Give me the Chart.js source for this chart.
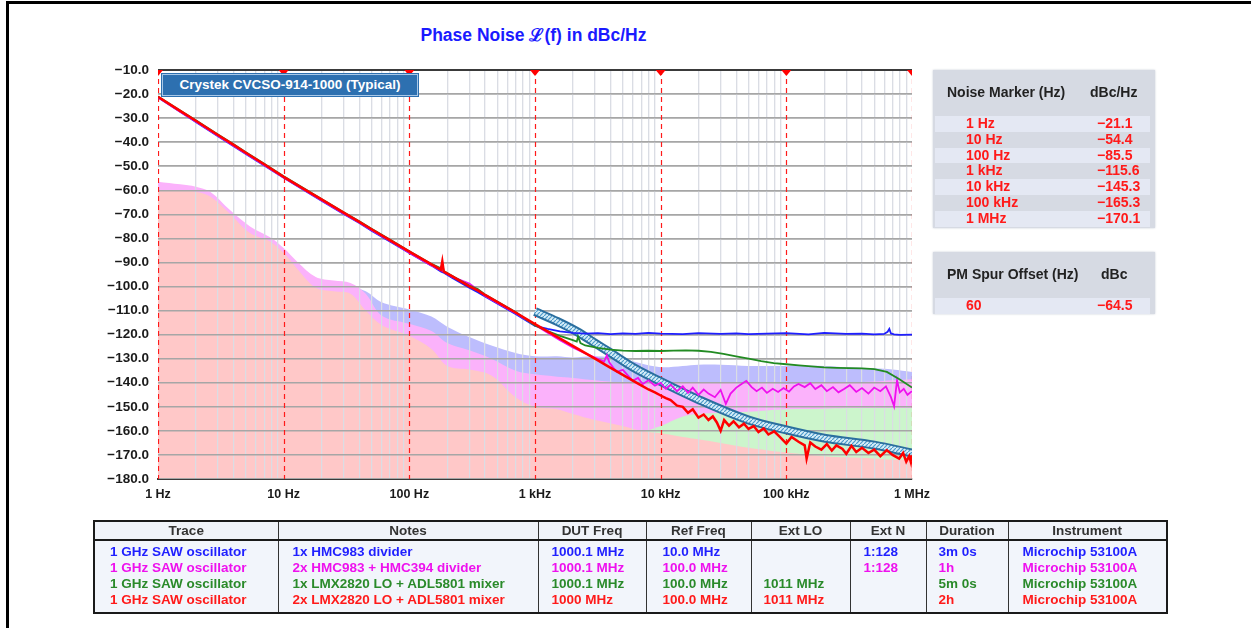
<!DOCTYPE html>
<html>
<head>
<meta charset="utf-8">
<script src="https://cdn.jsdelivr.net/npm/chart.js@4.4.0/dist/chart.umd.min.js"></script>
<style>
  body { margin: 0; background: #fff; font-family: "Liberation Sans", Arial, sans-serif; }
  #wrap { position: relative; width: 1251px; height: 628px; overflow: hidden; background: #fff; }
  #frame { position: absolute; left: 6px; top: 1px; width: 1400px; height: 800px; border-top: 3px solid #000; border-left: 3px solid #000; }
  #chartBox { position: absolute; left: 0; top: 0; }
  #title { position: absolute; left: 0; top: 22px; width: 1067px; text-align: center; font-weight: bold; font-size: 17.5px; color: #1a1aff; }
  #legendBox { position: absolute; left: 162px; top: 74px; width: 254px; height: 20px; background: #2d70b0; border: 1px solid #a8c8e8; outline: 1px solid #2d70b0; color: #fff; font-weight: bold; font-size: 13.5px; line-height: 20px; text-align: center; }
  .panel { position: absolute; left: 933px; width: 222px; background: #d6dae3; box-shadow: 0 0 2px #c8ccd6; font-weight: bold; font-size: 14px; }
  .panel .hd { position: relative; height: 46px; color: #222; }
  .panel .hd span { position: absolute; top: 14px; }
  .panel .row { position: relative; height: 15.8px; color: #ff1a1a; font-size: 14px; }
  .panel .row.lt { background: #e4e8f3; margin: 0 5px 0 2px; }
  .panel .row span { position: absolute; top: 0; line-height: 15.8px; }
  #bottomTable { position: absolute; left: 93px; top: 520px; width: 1073px; border-collapse: collapse; table-layout: fixed; border: 2px solid #1a1a1a; font-weight: bold; font-size: 13.5px; }
  #bottomTable th { background: #f0f3f9; color: #333; font-size: 13.5px; height: 17px; padding: 0; border: 1px solid #333; border-bottom: 2px solid #1a1a1a; }
  #bottomTable td { background: #f2f5fb; vertical-align: top; padding: 3px 0 4px 0; border-left: 1px solid #333; border-right: 1px solid #333; }
  #bottomTable td div { height: 16px; line-height: 16px; white-space: nowrap; }
  .cb { color: #1f1fff; } .cm { color: #ee11ee; } .cg { color: #2a8a2a; } .cr { color: #ff1a1a; }
</style>
</head>
<body>
<div id="wrap">
  <div id="frame"></div>
  <div id="title">Phase Noise ℒ(f) in dBc/Hz</div>
  <div id="chartBox"><canvas id="c" width="1251" height="628"></canvas></div>
  <div id="legendBox">Crystek CVCSO-914-1000 (Typical)</div>

  <div class="panel" style="top:70px;height:158px">
    <div class="hd"><span style="left:14px">Noise Marker (Hz)</span><span style="left:157px">dBc/Hz</span></div>
    <div class="row lt"><span style="left:31px">1 Hz</span><span style="left:162px">−21.1</span></div>
    <div class="row"><span style="left:33px">10 Hz</span><span style="left:164px">−54.4</span></div>
    <div class="row lt"><span style="left:31px">100 Hz</span><span style="left:162px">−85.5</span></div>
    <div class="row"><span style="left:33px">1 kHz</span><span style="left:164px">−115.6</span></div>
    <div class="row lt"><span style="left:31px">10 kHz</span><span style="left:162px">−145.3</span></div>
    <div class="row"><span style="left:33px">100 kHz</span><span style="left:164px">−165.3</span></div>
    <div class="row lt"><span style="left:31px">1 MHz</span><span style="left:162px">−170.1</span></div>
  </div>

  <div class="panel" style="top:252px;height:62px">
    <div class="hd"><span style="left:14px">PM Spur Offset (Hz)</span><span style="left:168px">dBc</span></div>
    <div class="row lt" style="height:16px"><span style="left:31px">60</span><span style="left:162px">−64.5</span></div>
  </div>

  <table id="bottomTable">
    <colgroup>
      <col style="width:184px"><col style="width:260px"><col style="width:108px"><col style="width:105px">
      <col style="width:99px"><col style="width:76px"><col style="width:82px"><col style="width:159px">
    </colgroup>
    <tr><th>Trace</th><th>Notes</th><th>DUT Freq</th><th>Ref Freq</th><th>Ext LO</th><th>Ext N</th><th>Duration</th><th>Instrument</th></tr>
    <tr>
      <td style="padding-left:15px"><div class="cb">1 GHz SAW oscillator</div><div class="cm">1 GHz SAW oscillator</div><div class="cg">1 GHz SAW oscillator</div><div class="cr">1 GHz SAW oscillator</div></td>
      <td style="padding-left:14px"><div class="cb">1x HMC983 divider</div><div class="cm">2x HMC983 + HMC394 divider</div><div class="cg">1x LMX2820 LO + ADL5801 mixer</div><div class="cr">2x LMX2820 LO + ADL5801 mixer</div></td>
      <td style="padding-left:13px"><div class="cb">1000.1 MHz</div><div class="cm">1000.1 MHz</div><div class="cg">1000.1 MHz</div><div class="cr">1000 MHz</div></td>
      <td style="padding-left:16px"><div class="cb">10.0 MHz</div><div class="cm">100.0 MHz</div><div class="cg">100.0 MHz</div><div class="cr">100.0 MHz</div></td>
      <td style="padding-left:12px"><div></div><div></div><div class="cg">1011 MHz</div><div class="cr">1011 MHz</div></td>
      <td style="padding-left:13px"><div class="cb">1:128</div><div class="cm">1:128</div><div></div><div></div></td>
      <td style="padding-left:12px"><div class="cb">3m 0s</div><div class="cm">1h</div><div class="cg">5m 0s</div><div class="cr">2h</div></td>
      <td style="padding-left:14px"><div class="cb">Microchip 53100A</div><div class="cm">Microchip 53100A</div><div class="cg">Microchip 53100A</div><div class="cr">Microchip 53100A</div></td>
    </tr>
  </table>
</div>

<script>
// Axis labels
const xTickLabels = ['1 Hz', '10 Hz', '100 Hz', '1 kHz', '10 kHz', '100 kHz', '1 MHz'];

// Shared low-offset part of the four measured traces (1 Hz .. 700 Hz)
const loHz = [1, 1.5, 2, 3, 4, 5, 7, 10, 15, 20, 30, 40, 50, 70, 100, 150, 178, 183, 188, 220, 300, 350, 400, 500, 700];
const redLo = [-21.1, -27.0, -31.1, -37.0, -41.1, -44.4, -49.2, -54.4, -59.9, -63.8, -69.3, -73.1, -76.2, -80.7, -85.5, -90.8, -93.0, -89.5, -93.8, -95.8, -99.9, -101.6, -103.5, -106.4, -110.8];
const blueLo = [-21.4, -27.4, -31.6, -37.5, -41.7, -44.9, -49.7, -54.8, -60.4, -64.3, -69.8, -73.6, -76.8, -81.3, -86.1, -91.3, -93.7, -94.0, -94.3, -96.4, -100.5, -102.4, -104.1, -107.0, -111.4];
const greenLo = [-21.0, -26.8, -30.9, -36.8, -40.9, -44.2, -49.0, -54.2, -59.7, -63.6, -69.1, -72.9, -76.0, -80.5, -85.3, -90.6, -92.4, -90.8, -93.6, -95.6, -99.6, -101.0, -103.3, -106.2, -110.6];
const magentaLo = [-21.3, -27.3, -31.4, -37.3, -41.5, -44.7, -49.5, -54.7, -60.2, -64.1, -69.6, -73.4, -76.5, -81.0, -85.9, -91.2, -93.2, -93.5, -93.9, -96.0, -98.8, -101.3, -103.8, -106.7, -111.0];

// 1 kHz .. 1 MHz part of each trace
const blueHz = [1000, 1260, 1580, 2000, 2510, 3160, 4000, 5000, 6300, 8000, 10000, 15000, 20000, 30000, 40000, 50000, 70000, 100000, 150000, 200000, 300000, 400000, 500000, 600000, 640000, 660000, 680000, 720000, 800000, 1000000];
const blueHi = [-116.4, -117.6, -118.6, -119.3, -119.6, -119.4, -119.8, -119.5, -119.7, -119.3, -119.6, -119.8, -119.4, -119.7, -119.5, -119.8, -119.6, -119.4, -119.9, -119.3, -119.7, -119.6, -119.9, -119.7, -118.8, -117.6, -119.5, -119.9, -120.1, -120.0];

const greenHz = [1000, 1260, 1580, 2000, 2150, 2200, 2300, 2510, 3160, 3980, 5010, 6310, 7940, 10000, 12600, 15800, 20000, 25100, 31600, 39800, 50100, 63100, 79400, 100000, 126000, 158000, 200000, 251000, 316000, 398000, 501000, 631000, 794000, 1000000];
const greenHi = [-116.2, -118.5, -120.5, -122.3, -122.9, -120.8, -123.5, -124.5, -125.5, -126.2, -126.6, -126.8, -126.7, -126.8, -126.6, -126.5, -126.7, -127.2, -128.0, -129.0, -130.0, -131.0, -131.8, -132.3, -132.8, -133.2, -133.6, -133.8, -133.9, -134.0, -134.3, -135.5, -138.5, -142.0];

const magentaHz = [1000, 1260, 1580, 2000, 2510, 3160, 3550, 3730, 3900, 4200, 4500, 5000, 5500, 6000, 6600, 7200, 8000, 9000, 10000, 11000, 12000, 13500, 15000, 16500, 18000, 20000, 22000, 24000, 27000, 30000, 33000, 36000, 40000, 44000, 48000, 53000, 58000, 64000, 70000, 78000, 86000, 95000, 105000, 115000, 125000, 140000, 155000, 170000, 190000, 210000, 235000, 260000, 290000, 320000, 360000, 400000, 450000, 500000, 560000, 620000, 680000, 720000, 760000, 800000, 860000, 920000, 1000000];
const magentaHi = [-116.0, -119.2, -122.3, -125.3, -127.8, -130.0, -131.2, -128.6, -131.5, -133.8, -135.5, -134.6, -137.0, -139.2, -138.0, -140.5, -139.0, -141.2, -140.0, -142.5, -140.8, -143.5, -141.5, -144.2, -142.0, -145.0, -142.8, -144.5, -146.0, -143.0, -148.8, -144.5, -142.0, -140.5, -139.2, -141.8, -143.5, -142.0, -144.2, -142.5, -143.8, -142.2, -143.7, -141.5, -140.5, -141.8, -140.2, -142.6, -141.0, -143.5, -141.8, -144.0, -142.5, -141.0, -143.8, -142.2, -144.5, -142.0, -143.5, -141.5, -146.0, -149.8, -139.0, -144.0, -142.5, -145.0, -143.5];

const redHz = [1000, 1500, 2000, 3000, 4000, 5000, 6000, 7000, 8000, 9000, 10000, 11000, 12000, 13500, 15000, 16500, 18000, 20000, 22000, 24000, 26000, 28000, 30000, 32000, 35000, 38000, 42000, 46000, 50000, 55000, 60000, 66000, 72000, 80000, 90000, 100000, 110000, 125000, 140000, 145000, 155000, 170000, 190000, 210000, 230000, 250000, 280000, 300000, 330000, 360000, 400000, 450000, 500000, 560000, 630000, 700000, 790000, 850000, 900000, 950000, 980000, 1000000];
const redHi = [-115.6, -120.9, -124.7, -130.0, -133.8, -136.7, -139.1, -141.1, -142.8, -144.0, -145.3, -146.4, -147.2, -149.5, -150.0, -152.5, -151.0, -154.5, -153.2, -155.5, -154.0, -156.5, -160.0, -155.5, -157.8, -156.0, -158.5, -157.0, -159.2, -158.0, -160.5, -159.0, -161.5, -160.2, -162.8, -165.3, -162.5, -164.5, -166.0, -171.5, -164.8, -166.5, -167.8, -165.5, -168.2, -166.0, -167.5, -169.5, -166.2, -168.8, -167.0, -169.2, -167.8, -170.5, -168.0, -170.0, -171.5, -169.2, -172.8, -170.5, -173.0, -170.1];

// Crystek CVCSO-914-1000 typical curve
const crystekHz = [1000, 1500, 2150, 3000, 4000, 6000, 10000, 20000, 50000, 100000, 200000, 500000, 1000000];
const crystekDb = [-110.4, -114.5, -118.7, -123.5, -127.6, -133.5, -139.5, -147, -155.5, -159.6, -163, -165.9, -169.2];

// Shaded floors under each trace
const floorHz = [1, 1.5, 2, 2.6, 3.7, 5.4, 7.8, 10, 13, 18, 25, 34, 45, 60, 100, 150, 200, 300, 450, 700, 1000, 1500, 2000, 3000, 5000, 7000, 10000, 15000, 20000, 30000, 50000, 70000, 100000, 200000, 300000, 500000, 700000, 1000000];
const blueFloor = [-59, -60, -61, -63, -70, -77, -81.5, -86, -92, -98, -99.5, -100, -102, -106.5, -109.5, -112.5, -116.7, -121, -124.5, -127.6, -129, -129, -129.5, -129, -130, -132, -133.5, -133, -132.5, -132.5, -133, -133, -133, -133, -133.5, -134, -134.5, -135.5];
const magentaFloor = [-56.4, -57.5, -58.5, -60.6, -68, -75, -79.5, -84, -90, -96, -97.5, -98.5, -103, -112, -115.5, -118.5, -123.5, -126.5, -130, -135, -136.5, -137.5, -138, -139, -140, -140, -140, -140, -140, -140, -140, -140, -140.5, -140, -140, -139.5, -139, -138.5];
const redFloor = [-60, -60.3, -60.6, -62.6, -69.5, -77.8, -81.3, -86, -93, -100.5, -102, -103, -110, -116, -120.5, -126, -133, -134.5, -137, -146, -150, -151, -153, -155.5, -158, -160, -161, -162.5, -163.5, -165, -167, -168, -169, -170.5, -171, -171.5, -172, -172];
const greenFloorHz = [3000, 5000, 7000, 10000, 15000, 20000, 30000, 50000, 70000, 100000, 200000, 300000, 500000, 700000, 1000000];
const greenFloor = [-180, -165, -161, -158, -154, -153, -152.5, -152, -151.5, -151, -150.8, -150.5, -150.5, -150.5, -150.5];

const pts = (hz, db) => hz.map((f, i) => ({ x: f, y: db[i] }));
const isDecade = (v) => { const d = Math.round(Math.log10(v)); return Math.abs(v - Math.pow(10, d)) < 1e-6; };

// hatch pattern for the Crystek band
const pc = document.createElement('canvas');
pc.width = 4; pc.height = 4;
const pctx = pc.getContext('2d');
pctx.fillStyle = '#d6eef8'; pctx.fillRect(0, 0, 4, 4);
pctx.strokeStyle = '#4d9acb'; pctx.lineWidth = 1.2;
pctx.beginPath(); pctx.moveTo(0, 4); pctx.lineTo(4, 0); pctx.stroke();
const hatch = document.getElementById('c').getContext('2d').createPattern(pc, 'repeat');

const floorSet = (label, hz, db, color, order) => ({
  label, data: pts(hz, db), fill: 'start', backgroundColor: color, borderWidth: 0,
  pointRadius: 0, tension: 0.35, order
});
const traceSet = (label, hz, db, color, width, order) => ({
  label, data: pts(hz, db), borderColor: color, borderWidth: width, pointRadius: 0,
  tension: 0, fill: false, order
});

const overlay = {
  id: 'overlay',
  afterDatasetDraw(chart, args) {
    if (chart.data.datasets[args.index].label !== 'Red floor') return;
    const { ctx, chartArea: a, scales: { x, y } } = chart;
    ctx.save();
    ctx.beginPath(); ctx.rect(a.left, a.top, a.right - a.left, a.bottom - a.top); ctx.clip();
    x.drawGrid(a);
    y.drawGrid(a);
    // decade marker lines
    ctx.strokeStyle = '#ff1a1a'; ctx.lineWidth = 1.2; ctx.setLineDash([5, 4]);
    x.ticks.forEach(t => {
      if (!isDecade(t.value)) return;
      const px = Math.round(x.getPixelForValue(t.value)) + 0.5;
      ctx.beginPath(); ctx.moveTo(px, a.top); ctx.lineTo(px, a.bottom); ctx.stroke();
    });
    ctx.restore();
  },
  afterDatasetsDraw(chart) {
    const { ctx, chartArea: a, scales: { x } } = chart;
    ctx.save();
    ctx.strokeStyle = '#3a3a3a'; ctx.lineWidth = 2;
    ctx.beginPath(); ctx.moveTo(a.left, a.top); ctx.lineTo(a.right, a.top); ctx.stroke();
    ctx.beginPath(); ctx.rect(a.left, a.top - 1, a.right - a.left, a.bottom - a.top); ctx.clip();
    ctx.fillStyle = '#ff0000';
    x.ticks.forEach(t => {
      if (!isDecade(t.value)) return;
      const px = x.getPixelForValue(t.value);
      ctx.beginPath(); ctx.moveTo(px - 5, a.top); ctx.lineTo(px + 5, a.top); ctx.lineTo(px, a.top + 6); ctx.closePath(); ctx.fill();
    });
    ctx.restore();
  }
};

Chart.defaults.font.family = '"Liberation Sans", Arial, sans-serif';
Chart.defaults.font.size = 12;
Chart.defaults.font.weight = 'bold';
Chart.defaults.color = '#1a1a1a';

new Chart(document.getElementById('c'), {
  type: 'line',
  data: {
    datasets: [
      floorSet('Blue floor', floorHz, blueFloor, '#bdbdfd', 10),
      floorSet('Magenta floor', floorHz, magentaFloor, '#fbb2fb', 9),
      floorSet('Green floor', greenFloorHz, greenFloor, '#ccf5cc', 8),
      floorSet('Red floor', floorHz, redFloor, '#ffc8c8', 7),
      { label: 'Crystek edge', data: pts(crystekHz, crystekDb), borderColor: '#2b6f9f', borderWidth: 9, pointRadius: 0, cubicInterpolationMode: 'monotone', fill: false, order: 6 },
      { label: 'Crystek CVCSO-914-1000 (Typical)', data: pts(crystekHz, crystekDb), borderColor: hatch, borderWidth: 5, pointRadius: 0, cubicInterpolationMode: 'monotone', fill: false, order: 5 },
      traceSet('1x HMC983 divider', loHz.concat(blueHz), blueLo.concat(blueHi), '#1f1fff', 1.8, 4),
      traceSet('2x HMC983 + HMC394 divider', loHz.concat(magentaHz), magentaLo.concat(magentaHi), '#ee11ee', 1.8, 3),
      traceSet('1x LMX2820 LO + ADL5801 mixer', loHz.concat(greenHz), greenLo.concat(greenHi), '#228b22', 1.8, 2),
      traceSet('2x LMX2820 LO + ADL5801 mixer', loHz.concat(redHz), redLo.concat(redHi), '#ff0000', 2.5, 1)
    ]
  },
  options: {
    responsive: false,
    animation: false,
    events: [],
    layout: { padding: { left: 0, right: 339, top: 70, bottom: 127 } },
    plugins: { legend: { display: false }, tooltip: { enabled: false } },
    scales: {
      x: {
        type: 'logarithmic', min: 1, max: 1000000,
        afterBuildTicks(axis) {
          const t = [];
          for (let d = 0; d <= 6; d++) for (let m = 1; m <= 9; m++) {
            const v = m * Math.pow(10, d);
            if (v <= 1000000) t.push({ value: v });
          }
          axis.ticks = t;
        },
        afterFit(axis) { axis.height = 22; },
        ticks: {
          autoSkip: false, maxRotation: 0, padding: 8, font: { size: 12.5 },
          callback: (v) => isDecade(v) ? xTickLabels[Math.round(Math.log10(v))] : ''
        },
        grid: {
          drawTicks: false, lineWidth: 1.2,
          color: (c) => (c.tick && isDecade(c.tick.value)) ? 'rgba(0,0,0,0)' : '#dadde4'
        },
        border: { display: true, color: '#3a3a3a', width: 2 }
      },
      y: {
        min: -180, max: -10,
        afterFit(axis) { axis.width = 158; },
        ticks: {
          stepSize: 10, padding: 9, font: { size: 13.5 },
          callback: (v) => (v < 0 ? '\u2212' : '') + Math.abs(v).toFixed(1)
        },
        grid: { drawTicks: false, color: '#a6a6a6', lineWidth: 1.5 },
        border: { display: false }
      }
    }
  },
  plugins: [overlay]
});
</script>
</body>
</html>
